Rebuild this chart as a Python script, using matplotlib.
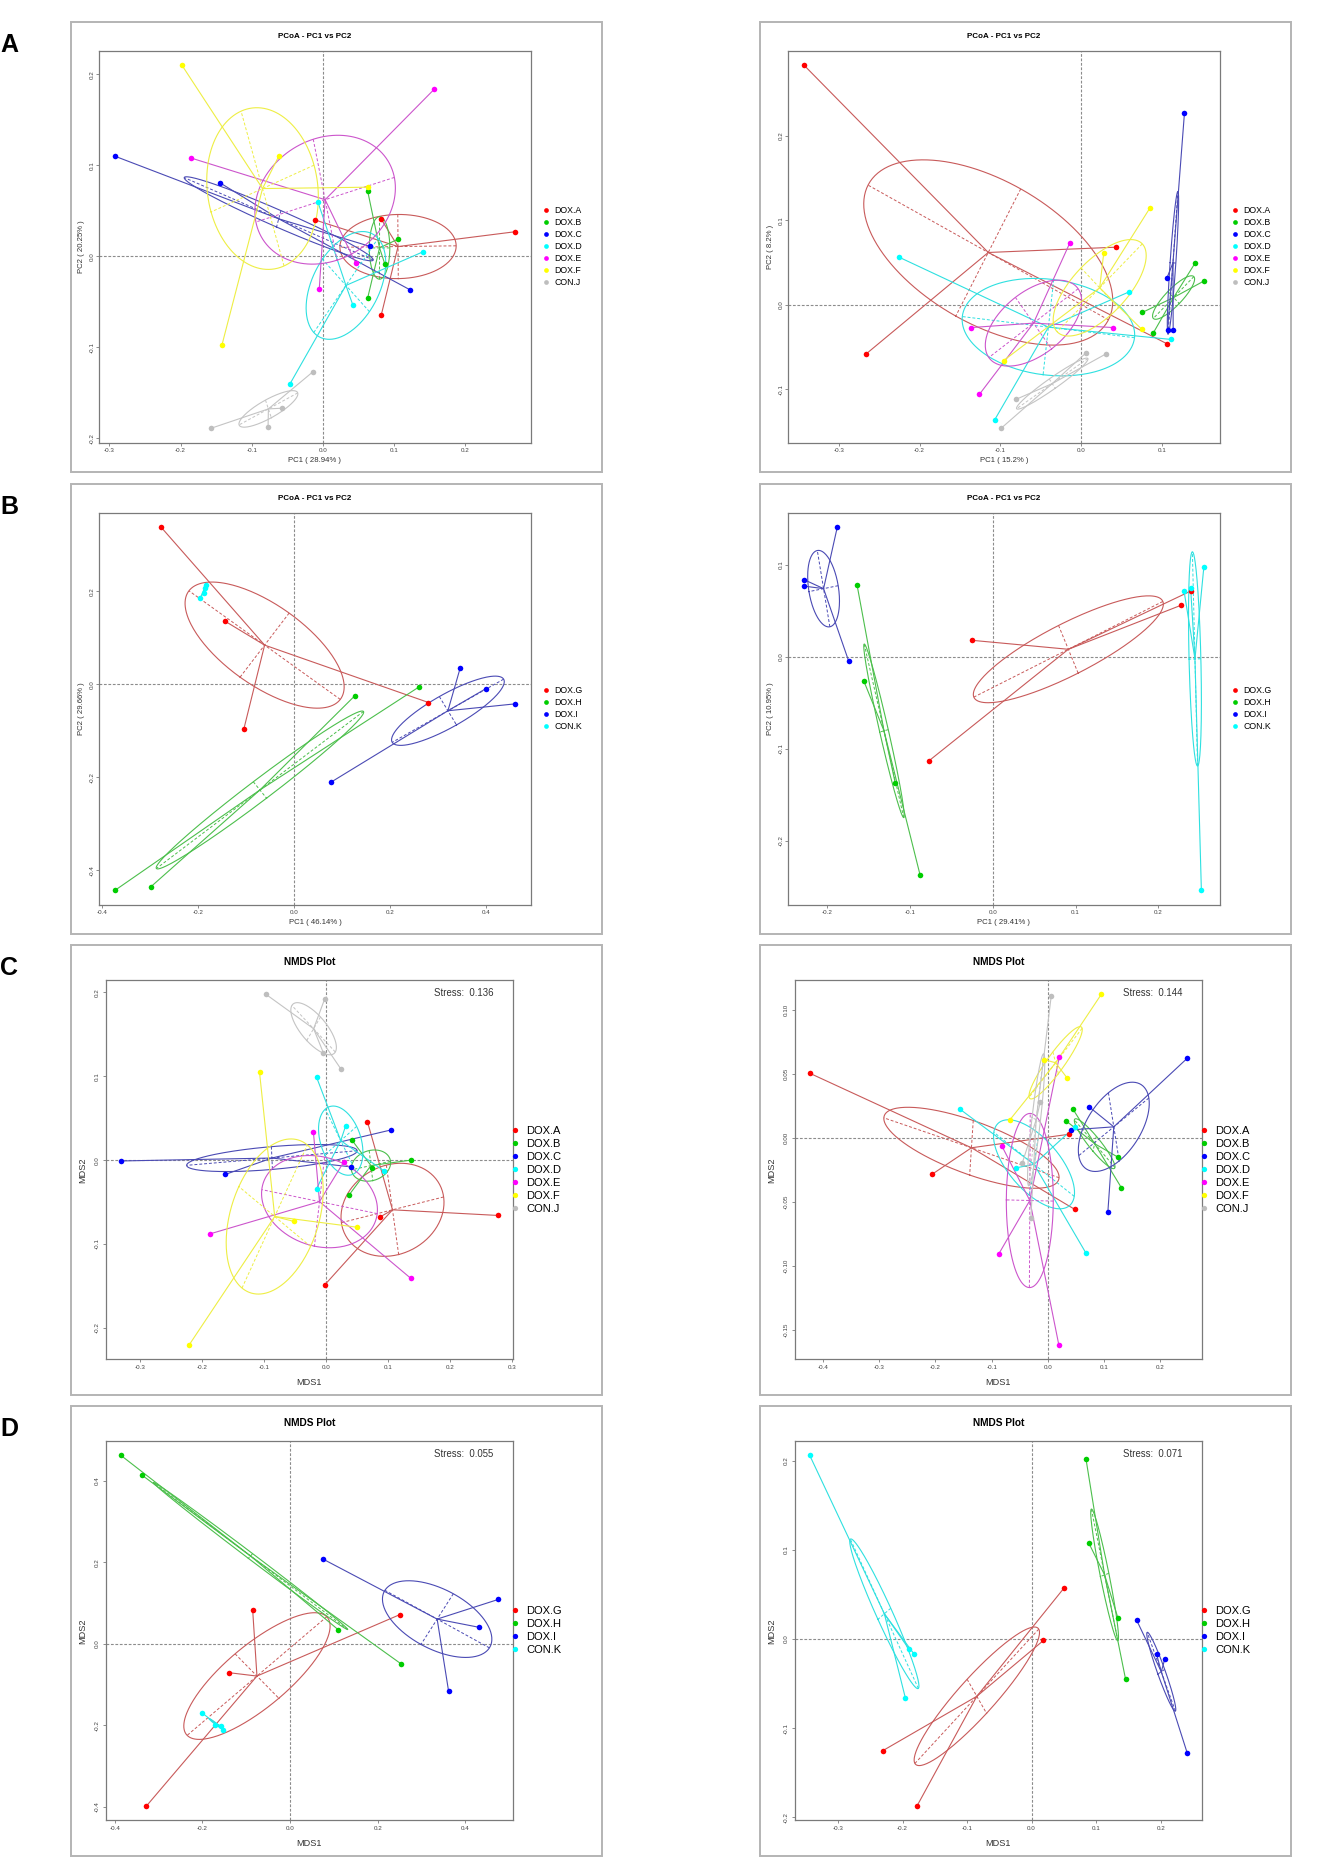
import numpy as np
import matplotlib
matplotlib.use("Agg")
import matplotlib.pyplot as plt
from matplotlib.patches import Rectangle
from matplotlib.lines import Line2D
from matplotlib.ticker import FormatStrFormatter

plt.rcParams['font.family'] = ['Liberation Sans', 'DejaVu Sans']

groups_7 = ['DOX.A', 'DOX.B', 'DOX.C', 'DOX.D', 'DOX.E', 'DOX.F', 'CON.J']
groups_4 = ['DOX.G', 'DOX.H', 'DOX.I', 'CON.K']

# A, left: PCoA
a1_x = [[-0.011, 0.082, 0.270, 0.082], [0.063, 0.106, 0.087, 0.063],
        [-0.292, -0.145, 0.066, 0.123], [-0.007, 0.141, 0.042, -0.046],
        [0.157, -0.185, 0.046, -0.005], [-0.198, -0.062, 0.063, -0.142],
        [-0.014, -0.157, -0.077, -0.058]]
a1_y = [[0.040, 0.041, 0.027, -0.065], [0.072, 0.019, -0.008, -0.046],
        [0.110, 0.081, 0.011, -0.037], [0.060, 0.005, -0.053, -0.140],
        [0.184, 0.108, -0.007, -0.036], [0.210, 0.110, 0.076, -0.098],
        [-0.127, -0.189, -0.188, -0.167]]

# A, right: PCoA
a2_x = [[-0.343, -0.266, 0.043, 0.106], [0.076, 0.089, 0.141, 0.152],
        [0.128, 0.106, 0.107, 0.114], [-0.225, 0.059, 0.111, -0.107],
        [-0.014, -0.136, 0.040, -0.126], [0.085, 0.028, 0.075, -0.096],
        [0.006, 0.031, -0.081, -0.099]]
a2_y = [[0.283, -0.058, 0.068, -0.046], [-0.009, -0.034, 0.049, 0.028],
        [0.227, 0.031, -0.030, -0.030], [0.056, 0.015, -0.041, -0.136],
        [0.073, -0.027, -0.027, -0.106], [0.114, 0.061, -0.029, -0.066],
        [-0.057, -0.058, -0.112, -0.146]]

# B, left: PCoA
b1_x = [[-0.277, -0.144, -0.105, 0.280], [-0.373, -0.299, 0.126, 0.261],
        [0.346, 0.400, 0.460, 0.076], [-0.196, -0.187, -0.185, -0.183]]
b1_y = [[0.338, 0.136, -0.097, -0.039], [-0.443, -0.436, -0.025, -0.005],
        [0.035, -0.009, -0.042, -0.211], [0.186, 0.197, 0.208, 0.214]]

# B, right: PCoA
b2_x = [[-0.025, -0.077, 0.227, 0.240], [-0.164, -0.156, -0.118, -0.088],
        [-0.188, -0.228, -0.228, -0.174], [0.231, 0.239, 0.255, 0.252]]
b2_y = [[0.018, -0.113, 0.056, 0.072], [0.078, -0.026, -0.137, -0.237],
        [0.141, 0.084, 0.077, -0.005], [0.072, 0.075, 0.098, -0.254]]

# C, left: NMDS
c1_x = [[0.066, 0.277, 0.086, -0.003], [0.041, 0.136, 0.073, 0.037],
        [-0.332, -0.163, 0.039, 0.104], [-0.016, 0.031, 0.093, -0.016],
        [-0.021, 0.028, -0.188, 0.136], [-0.108, -0.053, 0.049, -0.222],
        [-0.098, -0.003, -0.005, 0.023]]
c1_y = [[0.046, -0.066, -0.068, -0.149], [0.024, 0.000, -0.009, -0.041],
        [-0.001, -0.017, -0.008, 0.036], [0.099, 0.041, -0.013, -0.034],
        [0.033, -0.002, -0.088, -0.141], [0.105, -0.073, -0.080, -0.221],
        [0.198, 0.192, 0.128, 0.109]]

# C, right: NMDS
c2_x = [[-0.424, -0.206, 0.038, 0.048], [0.044, 0.0325, 0.1256, 0.131],
        [0.248, 0.073, 0.0416, 0.1067], [-0.157, 0.048, -0.0575, 0.068],
        [0.0204, -0.0817, -0.087, 0.0197], [0.0953, -0.0068, 0.034, -0.0673],
        [0.006, -0.0136, -0.0454, -0.0303]]
c2_y = [[0.0504, -0.0284, 0.0028, -0.0558], [0.0228, 0.0132, -0.0153, -0.039],
        [0.062, 0.0243, 0.0062, -0.0582], [0.0225, 0.0085, -0.0235, -0.090],
        [0.0631, -0.0065, -0.0902, -0.1618], [0.112, 0.061, 0.0468, 0.0142],
        [0.1107, 0.0277, -0.0194, -0.0628]]

# D, left: NMDS
d1_x = [[-0.0853, -0.1386, 0.250, -0.3285], [-0.3866, -0.338, 0.1095, 0.254],
        [0.0746, 0.4748, 0.4312, 0.3614], [-0.2006, -0.1705, -0.157, -0.153]]
d1_y = [[0.0822, -0.0708, 0.0717, -0.399], [0.4634, 0.4145, 0.035, -0.0497],
        [0.2085, 0.1091, 0.0407, -0.1148], [-0.1694, -0.1995, -0.202, -0.211]]

# D, right: NMDS
d2_x = [[0.0507, 0.0184, -0.2306, -0.1779], [0.0843, 0.0889, 0.1337, 0.1456],
        [0.1627, 0.1937, 0.2062, 0.2411], [-0.3439, -0.1904, -0.1825, -0.1957]]
d2_y = [[0.0578, -0.0015, -0.1254, -0.188], [0.2022, 0.1075, 0.0239, -0.0451],
        [0.0213, -0.0172, -0.0228, -0.128], [0.2067, -0.0108, -0.0164, -0.0657]]

stress_c1, stress_c2, stress_d1, stress_d2 = 0.136, 0.144, 0.055, 0.071

point_colors = ['#ff0000', '#00cd00', '#0000ff', '#00ffff', '#ff00ff', '#ffff00', '#bebebe']
line_colors = ['#c85a5a', '#4cbf4c', '#4a4ab4', '#2ee0e0', '#cc55cc', '#eeee44', '#c4c4c4']

W, H = 1337, 1870
FW, FH = 531, 450
FRAME_LEFT = [71, 760]
FRAME_TOP = [22, 484, 945, 1406]

fig = plt.figure(figsize=(W / 100, H / 100), dpi=100)


def spider(ax, x, y, color):
    # centroid star, ellipse (0.8 sd) and its dashed axes
    pts = np.column_stack([x, y])
    c = pts.mean(axis=0)
    cov = np.cov(pts.T, bias=True)
    vals, vecs = np.linalg.eigh(cov)
    radii = 0.8 * np.sqrt(np.clip(vals, 0, None))
    t = np.linspace(0, 2 * np.pi, 240)
    ell = c + np.outer(np.cos(t), radii[0] * vecs[:, 0]) + np.outer(np.sin(t), radii[1] * vecs[:, 1])
    ax.plot(ell[:, 0], ell[:, 1], color=color, lw=0.8, zorder=2)
    for k in range(2):
        d = radii[k] * vecs[:, k]
        ax.plot([c[0] - d[0], c[0] + d[0]], [c[1] - d[1], c[1] + d[1]],
                color=color, lw=0.7, ls=(0, (3, 2)), zorder=2)
    for px, py in pts:
        ax.plot([c[0], px], [c[1], py], color=color, lw=0.8, zorder=2)


def panel(col, row, kind, groups, xs, ys, xlab, ylab, xticks, yticks,
          yfmt='%.1f', stress=None):
    L = FRAME_LEFT[col]
    T = FRAME_TOP[row]
    fig.add_artist(Rectangle((L / W, 1 - (T + FH) / H), FW / W, FH / H,
                             transform=fig.transFigure, fill=False,
                             ec='#b4b4b4', lw=1.4))
    if col == 0:
        fig.text(0.0, 1 - (T + 23) / H, 'ABCD'[row], ha='left', va='center',
                 fontsize=18, fontweight='bold')
    if kind == 'pcoa':
        l, r, t, b = 0.053, 0.866, 0.064, 0.935
    else:
        l, r, t, b = 0.065, 0.833, 0.078, 0.921
    axw = (r - l) * FW
    axh = (b - t) * FH
    ax = fig.add_axes([(L + l * FW) / W, 1 - (T + b * FH) / H, axw / W, axh / H])

    allx = np.concatenate(xs)
    ally = np.concatenate(ys)
    ax.set_xlim(allx.min() - 0.04 * np.ptp(allx), allx.max() + 0.04 * np.ptp(allx))
    ax.set_ylim(ally.min() - 0.04 * np.ptp(ally), ally.max() + 0.04 * np.ptp(ally))
    ax.axhline(0, color='#8c8c8c', lw=0.8, ls=(0, (2.5, 1.5)), zorder=1)
    ax.axvline(0, color='#8c8c8c', lw=0.8, ls=(0, (2.5, 1.5)), zorder=1)

    for i in range(len(groups)):
        spider(ax, xs[i], ys[i], line_colors[i])
    for i in range(len(groups)):
        ax.scatter(xs[i], ys[i], s=16, color=point_colors[i], zorder=3, linewidths=0)

    ax.set_xticks(xticks)
    ax.set_yticks(yticks)
    ax.xaxis.set_major_formatter(FormatStrFormatter('%.1f'))
    ax.yaxis.set_major_formatter(FormatStrFormatter(yfmt))
    for s in ax.spines.values():
        s.set_color('#7a7a7a')
        s.set_linewidth(0.9)
    pad = 1.0 if kind == 'pcoa' else 1.5
    ax.tick_params(length=2.5, width=0.6, color='#7a7a7a', labelsize=4.5,
                   labelcolor='#444444', pad=pad)
    ax.tick_params(axis='y', labelrotation=90)
    for lab in ax.get_yticklabels():
        lab.set_va('center')

    if kind == 'pcoa':
        title, tfs, toff, lfs, loff = 'PCoA - PC1 vs PC2', 5.8, 14.4, 5.6, 18
    else:
        title, tfs, toff, lfs, loff = 'NMDS Plot', 7.3, 18.5, 6.6, 22.8
    ax.text(0.5, 1 + toff / axh, title, transform=ax.transAxes, ha='center',
            va='center', fontsize=tfs, fontweight='bold')
    ax.text(0.5, -loff / axh, xlab, transform=ax.transAxes, ha='center',
            va='center', fontsize=lfs, color='#333333')
    ax.text(-loff / axw, 0.5, ylab, transform=ax.transAxes, ha='center',
            va='center', rotation=90, fontsize=lfs, color='#333333')
    if stress is not None:
        ax.text(0.952, 0.965, 'Stress:  %.3f' % stress, transform=ax.transAxes,
                ha='right', va='center', fontsize=6.9, color='#333333')

    if kind == 'pcoa':
        fs, bx, ms, ls = 6.3, 1.029, 3.4, 0.34
    else:
        fs, bx, ms, ls = 8.0, 0.996, 3.8, 0.27
    handles = [Line2D([], [], ls='', marker='o', markersize=ms,
                      markerfacecolor=point_colors[i], markeredgewidth=0)
               for i in range(len(groups))]
    ax.legend(handles, groups, loc='center left', bbox_to_anchor=(bx, 0.5),
              frameon=False, fontsize=fs, handlelength=0.6, handletextpad=0.68,
              labelspacing=ls, borderpad=0, borderaxespad=0)
    return ax


panel(0, 0, 'pcoa', groups_7, a1_x, a1_y, 'PC1 ( 28.94% )', 'PC2 ( 20.25% )',
      [-0.3, -0.2, -0.1, 0.0, 0.1, 0.2], [-0.2, -0.1, 0.0, 0.1, 0.2])
panel(1, 0, 'pcoa', groups_7, a2_x, a2_y, 'PC1 ( 15.2% )', 'PC2 ( 8.2% )',
      [-0.3, -0.2, -0.1, 0.0, 0.1], [-0.1, 0.0, 0.1, 0.2])
panel(0, 1, 'pcoa', groups_4, b1_x, b1_y, 'PC1 ( 46.14% )', 'PC2 ( 29.66% )',
      [-0.4, -0.2, 0.0, 0.2, 0.4], [-0.4, -0.2, 0.0, 0.2])
panel(1, 1, 'pcoa', groups_4, b2_x, b2_y, 'PC1 ( 29.41% )', 'PC2 ( 10.95% )',
      [-0.2, -0.1, 0.0, 0.1, 0.2], [-0.2, -0.1, 0.0, 0.1])
panel(0, 2, 'nmds', groups_7, c1_x, c1_y, 'MDS1', 'MDS2',
      [-0.3, -0.2, -0.1, 0.0, 0.1, 0.2, 0.3], [-0.2, -0.1, 0.0, 0.1, 0.2],
      stress=stress_c1)
panel(1, 2, 'nmds', groups_7, c2_x, c2_y, 'MDS1', 'MDS2',
      [-0.4, -0.3, -0.2, -0.1, 0.0, 0.1, 0.2],
      [-0.15, -0.10, -0.05, 0.0, 0.05, 0.10], yfmt='%.2f', stress=stress_c2)
panel(0, 3, 'nmds', groups_4, d1_x, d1_y, 'MDS1', 'MDS2',
      [-0.4, -0.2, 0.0, 0.2, 0.4], [-0.4, -0.2, 0.0, 0.2, 0.4], stress=stress_d1)
panel(1, 3, 'nmds', groups_4, d2_x, d2_y, 'MDS1', 'MDS2',
      [-0.3, -0.2, -0.1, 0.0, 0.1, 0.2], [-0.2, -0.1, 0.0, 0.1, 0.2],
      stress=stress_d2)

fig.savefig('out.png', dpi=100, facecolor='white')
